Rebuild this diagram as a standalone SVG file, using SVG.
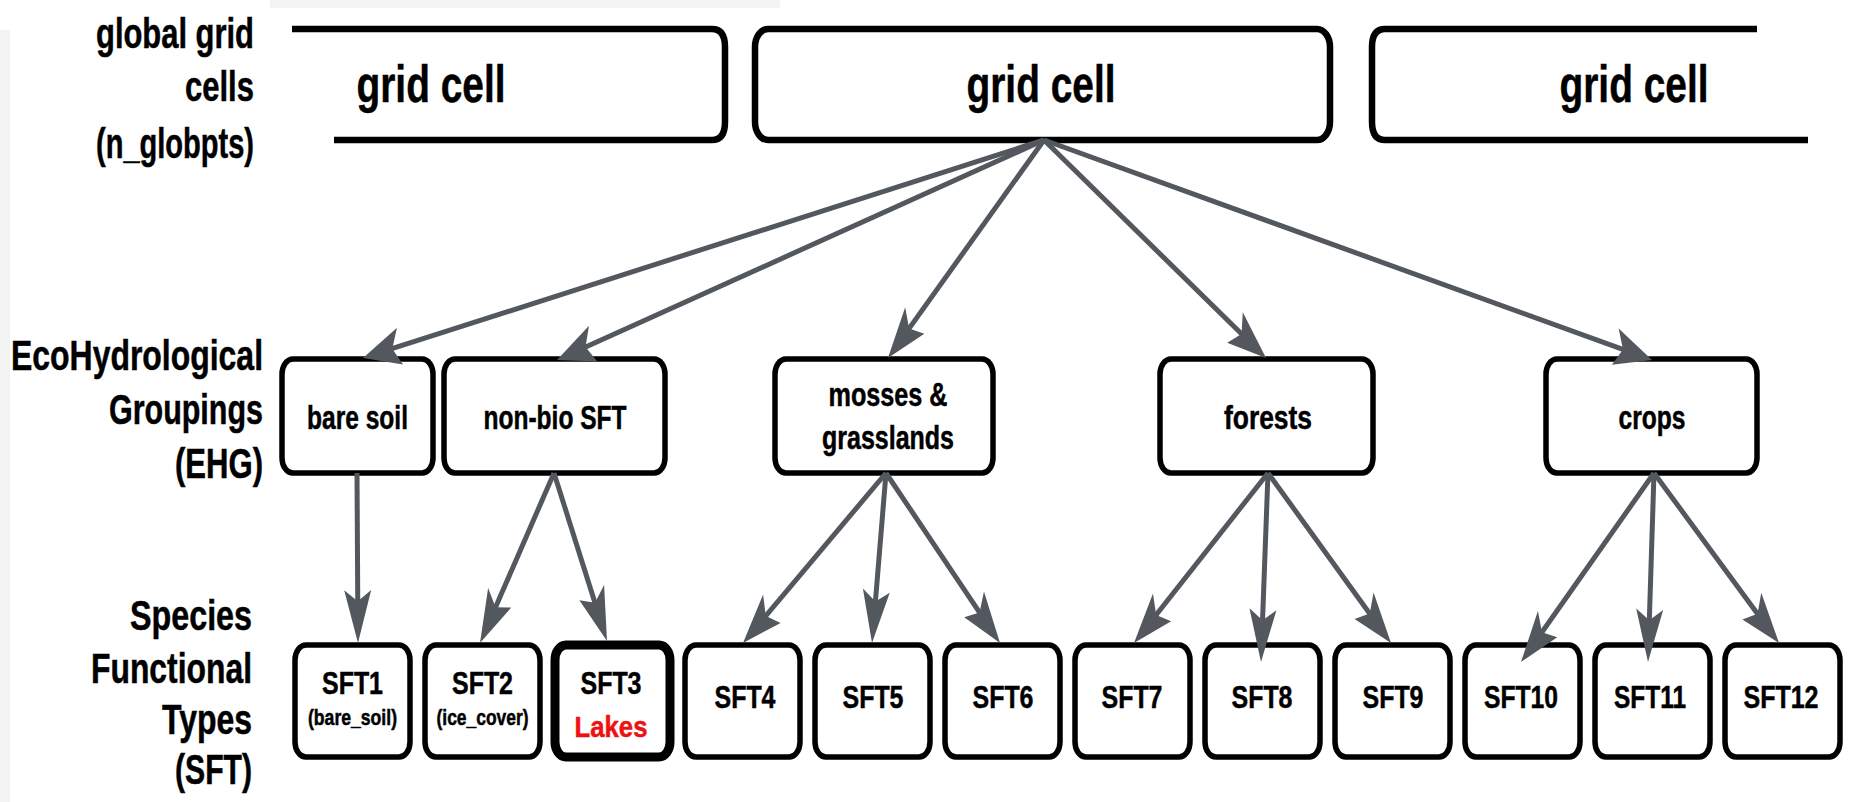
<svg xmlns="http://www.w3.org/2000/svg" width="1849" height="802" viewBox="0 0 1849 802">
<style>
text{font-family:"Liberation Sans",Arial,Helvetica,sans-serif;font-weight:bold;fill:#000;stroke:#000;stroke-width:0.5}
.lab{text-anchor:end}
.c{text-anchor:middle}
.box{fill:#fff;stroke:#000;stroke-width:5.5}
.top{fill:#fff;stroke:#000;stroke-width:6.5}
.open{fill:none;stroke:#000;stroke-width:6.5}
.hl{fill:#fff;stroke:#000;stroke-width:9}
.con{stroke:#53585e;stroke-width:5;fill:none;vector-effect:non-scaling-stroke;marker-end:url(#ah)}
.lakes{fill:#ee1111;stroke:#ee1111}
</style>
<defs>
<marker id="ah" markerUnits="userSpaceOnUse" orient="auto" refX="0" refY="0" markerWidth="40" markerHeight="30" overflow="visible">
<path d="M8,0 L-30,-13.5 L-22,0 L-30,13.5 Z" fill="#53585e"/>
</marker>
</defs>
<rect x="0" y="0" width="1849" height="802" fill="#fff"/>
<rect x="0" y="30" width="10" height="772" fill="#f3f3f3"/>
<rect x="270" y="0" width="510" height="8" fill="#f3f3f3"/>

<g id="row-labels">
<text class="lab" x="254" y="48" font-size="42" textLength="158" lengthAdjust="spacingAndGlyphs">global grid</text>
<text class="lab" x="254" y="101" font-size="42" textLength="69" lengthAdjust="spacingAndGlyphs">cells</text>
<text class="lab" x="254" y="158" font-size="42" textLength="158" lengthAdjust="spacingAndGlyphs">(n_globpts)</text>
<text class="lab" x="263" y="370" font-size="42" textLength="252" lengthAdjust="spacingAndGlyphs">EcoHydrological</text>
<text class="lab" x="263" y="424" font-size="42" textLength="154" lengthAdjust="spacingAndGlyphs">Groupings</text>
<text class="lab" x="263" y="478" font-size="42" textLength="88" lengthAdjust="spacingAndGlyphs">(EHG)</text>
<text class="lab" x="252" y="630" font-size="42" textLength="122" lengthAdjust="spacingAndGlyphs">Species</text>
<text class="lab" x="252" y="683" font-size="42" textLength="161" lengthAdjust="spacingAndGlyphs">Functional</text>
<text class="lab" x="252" y="734" font-size="42" textLength="90" lengthAdjust="spacingAndGlyphs">Types</text>
<text class="lab" x="252" y="784" font-size="42" textLength="77" lengthAdjust="spacingAndGlyphs">(SFT)</text>
</g>

<g id="grid-cell-left">
<path class="open" d="M292,29 H712 Q725,29 725,47 V122 Q725,140 712,140 H334"/>
<text class="c" x="431" y="102" font-size="52" textLength="149" lengthAdjust="spacingAndGlyphs">grid cell</text>
</g>
<g id="grid-cell-mid">
<rect class="top" x="755" y="29" width="575" height="111" rx="13" ry="18"/>
<text class="c" x="1041" y="102" font-size="52" textLength="149" lengthAdjust="spacingAndGlyphs">grid cell</text>
</g>
<g id="grid-cell-right">
<path class="open" d="M1757,29 H1385 Q1372,29 1372,47 V122 Q1372,140 1385,140 H1808"/>
<text class="c" x="1634" y="102" font-size="52" textLength="149" lengthAdjust="spacingAndGlyphs">grid cell</text>
</g>

<g id="ehg-bare-soil">
<rect class="box" x="282" y="359" width="151" height="114" rx="11" ry="15"/>
<text class="c" x="357.5" y="429" font-size="33" textLength="101" lengthAdjust="spacingAndGlyphs">bare soil</text>
</g>
<g id="ehg-non-bio">
<rect class="box" x="444" y="359" width="221" height="114" rx="11" ry="15"/>
<text class="c" x="555" y="429" font-size="33" textLength="143" lengthAdjust="spacingAndGlyphs">non-bio SFT</text>
</g>
<g id="ehg-mosses">
<rect class="box" x="775" y="359" width="218" height="114" rx="11" ry="15"/>
<text class="c" x="888" y="406" font-size="33" textLength="119" lengthAdjust="spacingAndGlyphs">mosses &amp;</text>
<text class="c" x="888" y="449" font-size="33" textLength="132" lengthAdjust="spacingAndGlyphs">grasslands</text>
</g>
<g id="ehg-forests">
<rect class="box" x="1160" y="359" width="213" height="114" rx="11" ry="15"/>
<text class="c" x="1268" y="429" font-size="33" textLength="88" lengthAdjust="spacingAndGlyphs">forests</text>
</g>
<g id="ehg-crops">
<rect class="box" x="1546" y="359" width="211" height="114" rx="11" ry="15"/>
<text class="c" x="1652" y="429" font-size="33" textLength="67" lengthAdjust="spacingAndGlyphs">crops</text>
</g>

<g id="sft1">
<rect class="box" x="295" y="645" width="115" height="112" rx="11" ry="15"/>
<text class="c" x="352.5" y="694" font-size="32" textLength="61" lengthAdjust="spacingAndGlyphs">SFT1</text>
<text class="c" x="352.5" y="725" font-size="22" stroke-width="0.3" textLength="89" lengthAdjust="spacingAndGlyphs">(bare_soil)</text>
</g>
<g id="sft2">
<rect class="box" x="425" y="645" width="115" height="112" rx="11" ry="15"/>
<text class="c" x="482.5" y="694" font-size="32" textLength="61" lengthAdjust="spacingAndGlyphs">SFT2</text>
<text class="c" x="482.5" y="725" font-size="22" stroke-width="0.3" textLength="92" lengthAdjust="spacingAndGlyphs">(ice_cover)</text>
</g>
<g id="sft3">
<rect class="hl" x="555" y="645" width="115" height="112" rx="11" ry="15"/>
<text class="c" x="611" y="694" font-size="32" textLength="61" lengthAdjust="spacingAndGlyphs">SFT3</text>
<text class="c lakes" x="611" y="737" font-size="30" textLength="73" lengthAdjust="spacingAndGlyphs">Lakes</text>
</g>
<g id="sft4">
<rect class="box" x="685" y="645" width="115" height="112" rx="11" ry="15"/>
<text class="c" x="745" y="708" font-size="32" textLength="61" lengthAdjust="spacingAndGlyphs">SFT4</text>
</g>
<g id="sft5">
<rect class="box" x="815" y="645" width="115" height="112" rx="11" ry="15"/>
<text class="c" x="873" y="708" font-size="32" textLength="61" lengthAdjust="spacingAndGlyphs">SFT5</text>
</g>
<g id="sft6">
<rect class="box" x="945" y="645" width="115" height="112" rx="11" ry="15"/>
<text class="c" x="1003" y="708" font-size="32" textLength="61" lengthAdjust="spacingAndGlyphs">SFT6</text>
</g>
<g id="sft7">
<rect class="box" x="1075" y="645" width="115" height="112" rx="11" ry="15"/>
<text class="c" x="1132" y="708" font-size="32" textLength="61" lengthAdjust="spacingAndGlyphs">SFT7</text>
</g>
<g id="sft8">
<rect class="box" x="1205" y="645" width="115" height="112" rx="11" ry="15"/>
<text class="c" x="1262" y="708" font-size="32" textLength="61" lengthAdjust="spacingAndGlyphs">SFT8</text>
</g>
<g id="sft9">
<rect class="box" x="1335" y="645" width="115" height="112" rx="11" ry="15"/>
<text class="c" x="1393" y="708" font-size="32" textLength="61" lengthAdjust="spacingAndGlyphs">SFT9</text>
</g>
<g id="sft10">
<rect class="box" x="1465" y="645" width="115" height="112" rx="11" ry="15"/>
<text class="c" x="1521" y="708" font-size="32" textLength="74" lengthAdjust="spacingAndGlyphs">SFT10</text>
</g>
<g id="sft11">
<rect class="box" x="1595" y="645" width="115" height="112" rx="11" ry="15"/>
<text class="c" x="1650" y="708" font-size="32" textLength="72" lengthAdjust="spacingAndGlyphs">SFT11</text>
</g>
<g id="sft12">
<rect class="box" x="1725" y="645" width="115" height="112" rx="11" ry="15"/>
<text class="c" x="1781" y="708" font-size="32" textLength="75" lengthAdjust="spacingAndGlyphs">SFT12</text>
</g>

<g id="connectors" transform="scale(1,1.39)">
<path class="con" d="M1044,100.72 L370.8,255.75"/>
<path class="con" d="M1044,100.72 L564.6,256.52"/>
<path class="con" d="M1044,100.72 L893.6,251.88"/>
<path class="con" d="M1044,100.72 L1259.5,252.93"/>
<path class="con" d="M1044,100.72 L1644.3,256.97"/>
<path class="con" d="M357,340.29 L357.93,454.59"/>
<path class="con" d="M554,340.29 L484.14,455.74"/>
<path class="con" d="M554,340.29 L603.79,453.82"/>
<path class="con" d="M886,340.29 L749.08,457.39"/>
<path class="con" d="M886,340.29 L872.91,454.64"/>
<path class="con" d="M886,340.29 L994.55,456.74"/>
<path class="con" d="M1268,340.29 L1139.91,457.2"/>
<path class="con" d="M1268,340.29 L1261.41,468.27"/>
<path class="con" d="M1268,340.29 L1385.33,456.95"/>
<path class="con" d="M1654,340.29 L1526.59,470.54"/>
<path class="con" d="M1654,340.29 L1648.35,468.27"/>
<path class="con" d="M1654,340.29 L1773.28,456.99"/>
</g>
</svg>
